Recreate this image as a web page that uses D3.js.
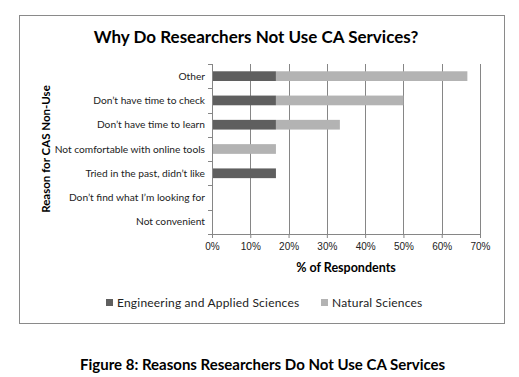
<!DOCTYPE html>
<html>
<head>
<meta charset="utf-8">
<script src="https://cdn.jsdelivr.net/npm/d3@7"></script>
<style>
  body { margin: 0; background: #fff; }
  svg { font-family: Lato, "Open Sans", sans-serif; }
</style>
</head>
<body>
<svg id="chart" width="519" height="377"></svg>
<script>
// Reasons and percentages
const categories = [
    "Other",
    "Don\u2019t have time to check",
    "Don\u2019t have time to learn",
    "Not comfortable with online tools",
    "Tried in the past, didn\u2019t like",
    "Don\u2019t find what I\u2019m looking for",
    "Not convenient"
];
const engineering = [16.7, 16.7, 16.7, 0, 16.7, 0, 0];
const natural = [50, 33.3, 16.7, 16.7, 0, 0, 0];
const seriesNames = ["Engineering and Applied Sciences", "Natural Sciences"];
const xTicks = [0, 10, 20, 30, 40, 50, 60, 70];

const colors = ["#5f5f5f", "#b3b3b3"];
const gridColor = "#868686";

const svg = d3.select("#chart");

// chart frame
svg.append("rect")
    .attr("x", 19.5).attr("y", 15.5)
    .attr("width", 485).attr("height", 308)
    .attr("fill", "#fff")
    .attr("stroke", "#8a8a8a")
    .attr("stroke-width", 1);

// title
svg.append("text")
    .attr("x", 256).attr("y", 43)
    .attr("text-anchor", "middle")
    .style("font-size", "17px")
    .style("font-weight", "bold")
    .text("Why Do Researchers Not Use CA Services?");

const margin = { left: 212, right: 39, top: 64, bottom: 143 };
const width = 519 - margin.left - margin.right;
const height = 377 - margin.top - margin.bottom;

const x = d3.scaleLinear().domain([0, 70]).range([0, width]);
const y = d3.scaleBand().domain(categories).range([0, height])
    .paddingInner(0.6).paddingOuter(0.3);

const g = svg.append("g").attr("transform", `translate(${margin.left},${margin.top})`);

// vertical gridlines
g.selectAll(".grid")
    .data(xTicks.slice(1))
    .enter().append("line")
    .attr("x1", d => Math.round(x(d)) + 0.5)
    .attr("x2", d => Math.round(x(d)) + 0.5)
    .attr("y1", 0).attr("y2", height)
    .attr("stroke", gridColor);

// stacked bars
const rows = categories.map((c, i) => ({ cat: c, eng: engineering[i], nat: natural[i] }));
const stacked = d3.stack().keys(["eng", "nat"])(rows);

g.selectAll(".series")
    .data(stacked)
    .enter().append("g")
    .attr("fill", (d, i) => colors[i])
    .selectAll("rect")
    .data(d => d)
    .enter().append("rect")
    .attr("x", d => x(d[0]))
    .attr("y", d => y(d.data.cat))
    .attr("width", d => x(d[1]) - x(d[0]))
    .attr("height", y.bandwidth());

// x axis
const xAxis = g.append("g")
    .attr("transform", `translate(0,${height})`)
    .call(d3.axisBottom(x).tickValues(xTicks).tickFormat(d => d + "%").tickSize(4).tickSizeOuter(0));
xAxis.select(".domain").attr("stroke", gridColor);
xAxis.selectAll(".tick line").attr("stroke", gridColor);
xAxis.selectAll(".tick text")
    .attr("dy", "0.9em")
    .style("font-size", "10px")
    .attr("fill", "#222");

// y axis line and ticks at band boundaries
g.append("line")
    .attr("x1", 0.5).attr("x2", 0.5)
    .attr("y1", 0).attr("y2", height + 4)
    .attr("stroke", gridColor);
g.selectAll(".ytick")
    .data(d3.range(categories.length + 1))
    .enter().append("line")
    .attr("x1", -4).attr("x2", 0)
    .attr("y1", i => Math.round(i * y.step()) + 0.5)
    .attr("y2", i => Math.round(i * y.step()) + 0.5)
    .attr("stroke", gridColor);

// category labels
g.selectAll(".ylabel")
    .data(categories)
    .enter().append("text")
    .attr("x", -7)
    .attr("y", d => y(d) + y.bandwidth() / 2)
    .attr("dy", "0.35em")
    .attr("text-anchor", "end")
    .style("font-size", "10.2px")
    .attr("fill", "#222")
    .text(d => d);

// axis titles
svg.append("text")
    .attr("x", margin.left + width / 2)
    .attr("y", 272)
    .attr("text-anchor", "middle")
    .style("font-size", "12.5px")
    .style("font-weight", "bold")
    .text("% of Respondents");

svg.append("text")
    .attr("transform", `translate(50,149) rotate(-90)`)
    .attr("text-anchor", "middle")
    .style("font-size", "11.5px")
    .style("font-weight", "bold")
    .text("Reason for CAS Non-Use");

// legend
const legendX = [106, 321];
const legend = svg.selectAll(".legend")
    .data(seriesNames)
    .enter().append("g")
    .attr("transform", (d, i) => `translate(${legendX[i]},299)`);
legend.append("rect")
    .attr("width", 7).attr("height", 7)
    .attr("fill", (d, i) => colors[i]);
legend.append("text")
    .attr("x", 11).attr("y", 4)
    .attr("dy", "0.35em")
    .style("font-size", "12px")
    .style("letter-spacing", "0.2px")
    .attr("fill", "#222")
    .text(d => d);

// figure caption
svg.append("text")
    .attr("x", 80).attr("y", 370)
    .style("font-size", "15px")
    .style("font-weight", "bold")
    .text("Figure 8: Reasons Researchers Do Not Use CA Services");
</script>
</body>
</html>
